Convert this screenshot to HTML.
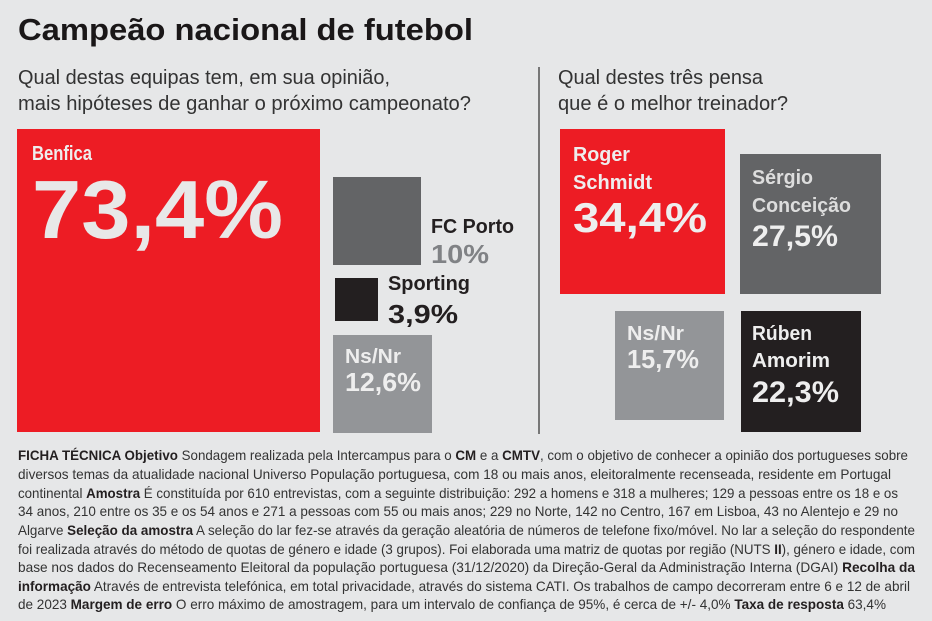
<!DOCTYPE html>
<html><head><meta charset="utf-8"><style>
html,body{margin:0;padding:0;background:#e6e7e8;}
svg{display:block;}
text{font-family:"Liberation Sans",sans-serif;}
.b{font-weight:bold;}
</style></head><body>
<svg width="932" height="621" viewBox="0 0 932 621" xmlns="http://www.w3.org/2000/svg">
<rect width="932" height="621" fill="#e6e7e8"/>
<text x="18" y="40" class="b" font-size="31" fill="#1a1718" textLength="455" lengthAdjust="spacingAndGlyphs">Campeão nacional de futebol</text>
<text x="18" y="84" font-size="20" fill="#333" textLength="372" lengthAdjust="spacingAndGlyphs">Qual destas equipas tem, em sua opinião,</text>
<text x="18" y="110" font-size="20" fill="#333" textLength="453" lengthAdjust="spacingAndGlyphs">mais hipóteses de ganhar o próximo campeonato?</text>
<text x="558" y="84" font-size="20" fill="#333" textLength="205" lengthAdjust="spacingAndGlyphs">Qual destes três pensa</text>
<text x="558" y="110" font-size="20" fill="#333" textLength="230" lengthAdjust="spacingAndGlyphs">que é o melhor treinador?</text>
<rect x="538" y="67" width="2" height="367" fill="#777"/>

<rect x="17" y="129" width="303" height="303" fill="#ed1c24"/>
<text x="32" y="160" class="b" font-size="20" fill="#eee" textLength="60" lengthAdjust="spacingAndGlyphs">Benfica</text>
<text x="32" y="238" class="b" font-size="83" fill="#e8e8e8" textLength="251" lengthAdjust="spacingAndGlyphs">73,4%</text>

<rect x="333" y="177" width="88" height="88" fill="#636466"/>
<text x="431" y="233" class="b" font-size="20" fill="#231f20" textLength="83" lengthAdjust="spacingAndGlyphs">FC Porto</text>
<text x="431" y="263" class="b" font-size="26" fill="#808285" textLength="58" lengthAdjust="spacingAndGlyphs">10%</text>
<rect x="335" y="278" width="43" height="43" fill="#231f20"/>
<text x="388" y="290" class="b" font-size="20" fill="#231f20" textLength="82" lengthAdjust="spacingAndGlyphs">Sporting</text>
<text x="388" y="323" class="b" font-size="26" fill="#231f20" textLength="70" lengthAdjust="spacingAndGlyphs">3,9%</text>
<rect x="333" y="335" width="99" height="98" fill="#939598"/>
<text x="345" y="363" class="b" font-size="20" fill="#eee" textLength="56" lengthAdjust="spacingAndGlyphs">Ns/Nr</text>
<text x="345" y="391" class="b" font-size="26" fill="#eee" textLength="76" lengthAdjust="spacingAndGlyphs">12,6%</text>

<rect x="560" y="129" width="165" height="165" fill="#ed1c24"/>
<text x="573" y="161" class="b" font-size="20" fill="#eee" textLength="57" lengthAdjust="spacingAndGlyphs">Roger</text>
<text x="573" y="189" class="b" font-size="20" fill="#eee" textLength="79" lengthAdjust="spacingAndGlyphs">Schmidt</text>
<text x="573" y="232" class="b" font-size="42" fill="#eee" textLength="134" lengthAdjust="spacingAndGlyphs">34,4%</text>

<rect x="740" y="154" width="141" height="140" fill="#636466"/>
<text x="752" y="184" class="b" font-size="20" fill="#ddd" textLength="61" lengthAdjust="spacingAndGlyphs">Sérgio</text>
<text x="752" y="212" class="b" font-size="20" fill="#ddd" textLength="99" lengthAdjust="spacingAndGlyphs">Conceição</text>
<text x="752" y="246" class="b" font-size="30" fill="#eee" textLength="86" lengthAdjust="spacingAndGlyphs">27,5%</text>

<rect x="615" y="311" width="109" height="109" fill="#939598"/>
<text x="627" y="340" class="b" font-size="20" fill="#eee" textLength="57" lengthAdjust="spacingAndGlyphs">Ns/Nr</text>
<text x="627" y="368" class="b" font-size="26" fill="#eee" textLength="72" lengthAdjust="spacingAndGlyphs">15,7%</text>

<rect x="741" y="311" width="120" height="121" fill="#231f20"/>
<text x="752" y="340" class="b" font-size="20" fill="#eee" textLength="60" lengthAdjust="spacingAndGlyphs">Rúben</text>
<text x="752" y="367" class="b" font-size="20" fill="#eee" textLength="78" lengthAdjust="spacingAndGlyphs">Amorim</text>
<text x="752" y="402" class="b" font-size="30" fill="#eee" textLength="87" lengthAdjust="spacingAndGlyphs">22,3%</text>

<g font-size="14" fill="#333">
<text x="18" y="460" textLength="890" lengthAdjust="spacingAndGlyphs"><tspan class="b" fill="#231f20">FICHA TÉCNICA Objetivo</tspan> Sondagem realizada pela Intercampus para o <tspan class="b" fill="#231f20">CM</tspan> e a <tspan class="b" fill="#231f20">CMTV</tspan>, com o objetivo de conhecer a opinião dos portugueses sobre</text>
<text x="18" y="479" textLength="873" lengthAdjust="spacingAndGlyphs">diversos temas da atualidade nacional Universo População portuguesa, com 18 ou mais anos, eleitoralmente recenseada, residente em Portugal</text>
<text x="18" y="498" textLength="880" lengthAdjust="spacingAndGlyphs">continental <tspan class="b" fill="#231f20">Amostra</tspan> É constituída por 610 entrevistas, com a seguinte distribuição: 292 a homens e 318 a mulheres; 129 a pessoas entre os 18 e os</text>
<text x="18" y="516" textLength="880" lengthAdjust="spacingAndGlyphs">34 anos, 210 entre os 35 e os 54 anos e 271 a pessoas com 55 ou mais anos; 229 no Norte, 142 no Centro, 167 em Lisboa, 43 no Alentejo e 29 no</text>
<text x="18" y="535" textLength="897" lengthAdjust="spacingAndGlyphs">Algarve <tspan class="b" fill="#231f20">Seleção da amostra</tspan> A seleção do lar fez-se através da geração aleatória de números de telefone fixo/móvel. No lar a seleção do respondente</text>
<text x="18" y="554" textLength="897" lengthAdjust="spacingAndGlyphs">foi realizada através do método de quotas de género e idade (3 grupos). Foi elaborada uma matriz de quotas por região (NUTS <tspan class="b" fill="#231f20">II</tspan>), género e idade, com</text>
<text x="18" y="572" textLength="897" lengthAdjust="spacingAndGlyphs">base nos dados do Recenseamento Eleitoral da população portuguesa (31/12/2020) da Direção-Geral da Administração Interna (DGAI) <tspan class="b" fill="#231f20">Recolha da</tspan></text>
<text x="18" y="591" textLength="892" lengthAdjust="spacingAndGlyphs"><tspan class="b" fill="#231f20">informação</tspan> Através de entrevista telefónica, em total privacidade, através do sistema CATI. Os trabalhos de campo decorreram entre 6 e 12 de abril</text>
<text x="18" y="609" textLength="868" lengthAdjust="spacingAndGlyphs">de 2023  <tspan class="b" fill="#231f20">Margem de erro</tspan> O erro máximo de amostragem, para um intervalo de confiança de 95%, é cerca de +/- 4,0% <tspan class="b" fill="#231f20">Taxa de resposta</tspan> 63,4%</text>
</g>
</svg>
</body></html>
